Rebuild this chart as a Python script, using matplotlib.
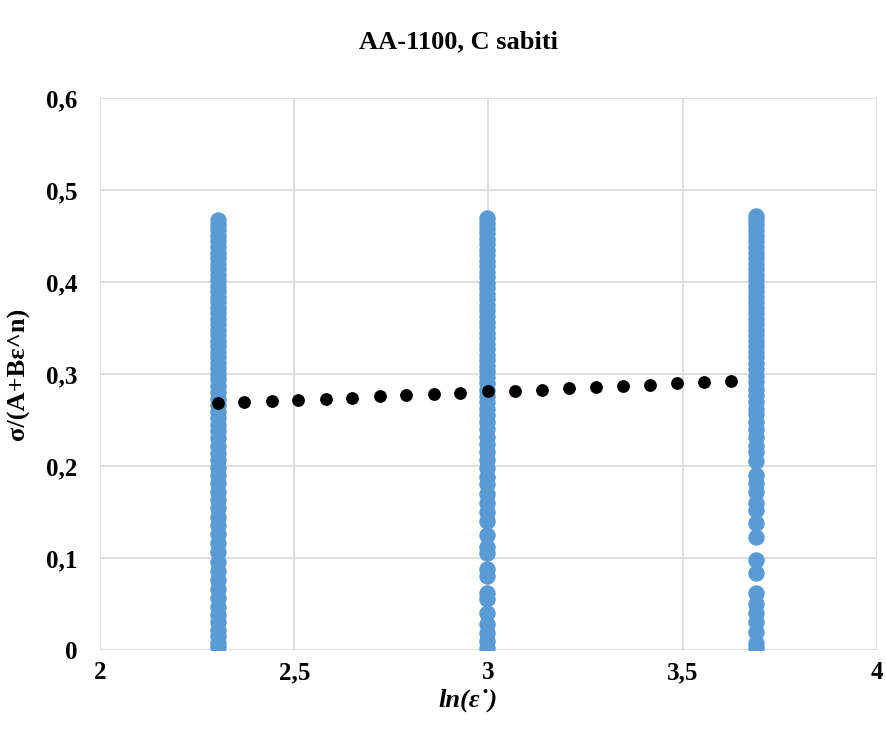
import matplotlib.pyplot as plt
import numpy as np

# strain rates (ln of 10, 20, 40 1/s)
x_rates = [2.303, 2.996, 3.689]

y_col1 = [0.003, 0.008, 0.015, 0.022, 0.030, 0.038, 0.047, 0.056, 0.066, 0.076,
          0.086, 0.096, 0.106, 0.116, 0.126, 0.136, 0.145, 0.154, 0.163, 0.172,
          0.181, 0.190, 0.198, 0.206, 0.214, 0.222, 0.230, 0.238, 0.245, 0.252,
          0.259, 0.266, 0.273, 0.280, 0.287, 0.294, 0.300, 0.306, 0.312, 0.318,
          0.324, 0.330, 0.336, 0.342, 0.348, 0.354, 0.360, 0.366, 0.372, 0.378,
          0.384, 0.390, 0.396, 0.402, 0.408, 0.414, 0.420, 0.426, 0.432, 0.438,
          0.444, 0.450, 0.456, 0.462, 0.467]
y_col2 = [0.002, 0.010, 0.018, 0.028, 0.040, 0.055, 0.062, 0.080, 0.088, 0.105,
          0.112, 0.125, 0.140, 0.150, 0.160, 0.170, 0.180, 0.188, 0.198, 0.206,
          0.215, 0.224, 0.232, 0.240, 0.248, 0.255, 0.262, 0.269, 0.276, 0.283,
          0.290, 0.297, 0.303, 0.309, 0.315, 0.321, 0.327, 0.333, 0.339, 0.345,
          0.351, 0.357, 0.363, 0.369, 0.375, 0.381, 0.387, 0.393, 0.399, 0.405,
          0.411, 0.417, 0.423, 0.429, 0.435, 0.441, 0.447, 0.453, 0.459, 0.464,
          0.469]
y_col3 = [0.002, 0.008, 0.020, 0.030, 0.040, 0.050, 0.062, 0.084, 0.098, 0.123,
          0.138, 0.152, 0.160, 0.172, 0.182, 0.190, 0.205, 0.215, 0.222, 0.232,
          0.240, 0.248, 0.256, 0.262, 0.270, 0.277, 0.284, 0.291, 0.298, 0.305,
          0.312, 0.318, 0.324, 0.330, 0.336, 0.342, 0.348, 0.354, 0.360, 0.366,
          0.372, 0.378, 0.384, 0.390, 0.396, 0.402, 0.408, 0.414, 0.420, 0.426,
          0.432, 0.438, 0.444, 0.450, 0.456, 0.462, 0.467, 0.472]

# trend points (black)
x_fit = [2.303, 2.372, 2.442, 2.511, 2.581, 2.650, 2.720, 2.789, 2.859, 2.928,
         2.998, 3.067, 3.137, 3.206, 3.276, 3.345, 3.415, 3.484, 3.554, 3.623]
y_fit = [0.268, 0.269, 0.271, 0.272, 0.273, 0.274, 0.276, 0.277, 0.278, 0.279,
         0.281, 0.282, 0.283, 0.285, 0.286, 0.287, 0.288, 0.290, 0.291, 0.292]

plt.rcParams['font.family'] = ['Liberation Serif', 'DejaVu Serif']

fig = plt.figure(figsize=(8.87, 7.42), dpi=100)
ax = fig.add_axes([0.1127, 0.124, 0.876, 0.744])

blue = '#5B9BD5'
for xv, ys in zip(x_rates, [y_col1, y_col2, y_col3]):
    ax.scatter([xv] * len(ys), ys, s=140, color=blue, linewidths=0, zorder=3)
ax.scatter(x_fit, y_fit, s=85, color='black', linewidths=0, zorder=4)

ax.set_xlim(2, 4)
ax.set_ylim(0, 0.6)
ax.set_xticks([2, 2.5, 3, 3.5, 4])
ax.set_xticklabels(['2', '2,5', '3', '3,5', '4'])
ax.set_yticks(np.arange(0, 0.61, 0.1))
ax.set_yticklabels(['0', '0,1', '0,2', '0,3', '0,4', '0,5', '0,6'])
ax.grid(True, color='#d9d9d9', linewidth=1.2)
ax.set_axisbelow(True)
for s in ax.spines.values():
    s.set_visible(False)
ax.tick_params(axis='x', length=0, labelsize=18, pad=8)
ax.tick_params(axis='y', length=0, labelsize=18, pad=16)
for lab in ax.get_xticklabels() + ax.get_yticklabels():
    lab.set_fontweight('bold')

ax.set_xlabel('ln(ε˙)', fontsize=19, fontstyle='italic', fontweight='bold')
ax.xaxis.set_label_coords(0.474, -0.07)
ax.set_ylabel('σ/(A+Bε^n)', fontsize=19, fontweight='bold')
ax.yaxis.set_label_coords(-0.09, 0.5)
fig.text(0.517, 0.943, 'AA-1100, C sabiti', ha='center', va='center',
         fontsize=19, fontweight='bold')

fig.savefig('out.png', dpi=100)
